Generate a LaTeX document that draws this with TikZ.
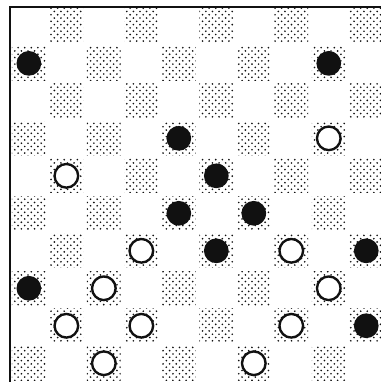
\documentclass[tikz,border=0pt]{standalone}
\usetikzlibrary{patterns}
\definecolor{ink}{HTML}{111111}
\pgfdeclarepatternformonly{stipple}{\pgfpoint{-1pt}{-1pt}}{\pgfpoint{6pt}{6pt}}{\pgfpoint{5pt}{5pt}}{%
  \pgfpathcircle{\pgfpoint{1.25pt}{1.25pt}}{0.7pt}%
  \pgfpathcircle{\pgfpoint{3.75pt}{3.75pt}}{0.7pt}%
  \pgfusepath{fill}}
\tikzset{
  darksq/.style={pattern=stipple,pattern color=ink},
  frame/.style={draw=ink,line width=1.6pt},
  man/.style={circle,inner sep=0pt},
  blackman/.style={man,fill=ink,minimum size=0.66cm},
  whiteman/.style={man,draw=ink,fill=white,line width=1.8pt,minimum size=0.63cm}
}

\begin{document}
\begin{tikzpicture}[x=1cm,y=1cm]
    \clip (-0.27,0) rectangle (9.89,10.19);
    \fill[white] (-0.27,0) rectangle (9.89,10.19);

    % dark squares, row counted from the top
    \foreach \r in {0,...,9} {
      \foreach \k in {0,2,...,8} {
        \pgfmathtruncatemacro{\c}{\k+mod(\r+1,2)}
        \fill[darksq] (\c+0.05,9.05-\r) rectangle (\c+0.95,9.95-\r);
      }
    }
    \draw[frame] (0,-0.3) -- (0,10) -- (10.3,10);

    % pieces (column/row)
    \foreach \c/\r [count=\i] in {0/1,8/1,4/3,5/4,4/5,6/5,5/6,9/6,0/7,9/8}
      \node[blackman] (b\i) at (\c+0.5,9.5-\r) {};
    \foreach \c/\r [count=\i] in {8/3,1/4,3/6,7/6,2/7,8/7,1/8,3/8,7/8,2/9,6/9}
      \node[whiteman] (w\i) at (\c+0.5,9.5-\r) {};
\end{tikzpicture}
\end{document}
